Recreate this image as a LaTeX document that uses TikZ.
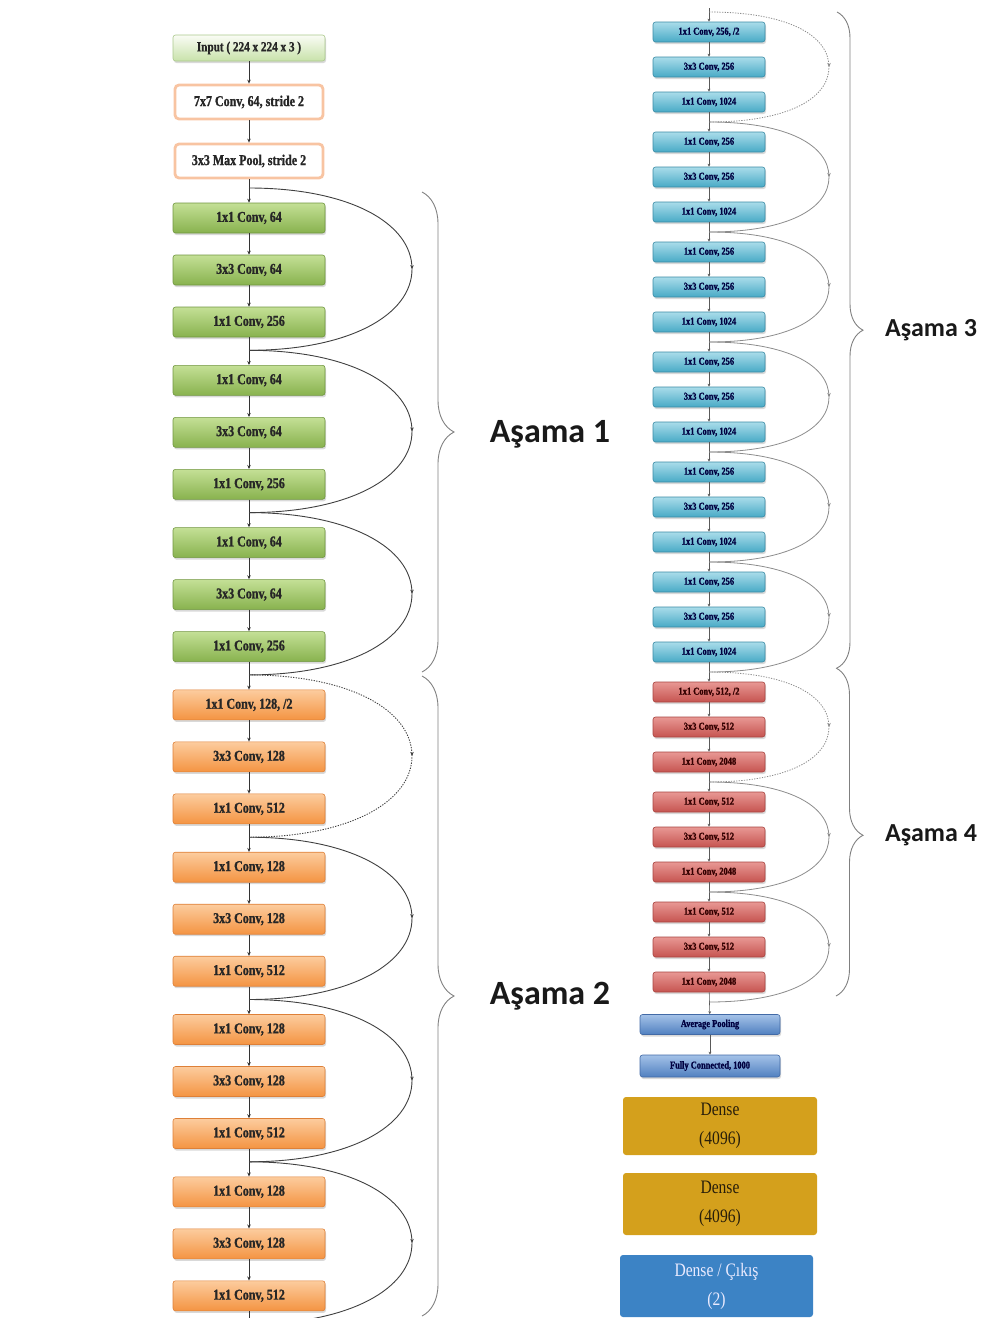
\documentclass[tikz,border=0pt]{standalone}
\usepackage{fontspec}
\setmainfont{Liberation Serif}
\newfontfamily\boxfont[FakeStretch=0.8, BoldFeatures={FakeBold=1.2}]{Liberation Serif}
\newfontfamily\densefont[FakeStretch=0.82]{Liberation Serif}
\newfontfamily\stagefont{Carlito}
\usetikzlibrary{decorations.pathreplacing,decorations.markings,shadows,arrows.meta,calc}

\definecolor{gTop}{RGB}{196,224,150}
\definecolor{gBot}{RGB}{136,178,78}
\definecolor{gEdge}{RGB}{112,150,64}
\definecolor{oTop}{RGB}{252,204,158}
\definecolor{oBot}{RGB}{244,148,66}
\definecolor{oEdge}{RGB}{222,128,56}
\definecolor{cTop}{RGB}{170,220,234}
\definecolor{cBot}{RGB}{72,170,198}
\definecolor{cEdge}{RGB}{58,138,165}
\definecolor{rTop}{RGB}{232,152,148}
\definecolor{rBot}{RGB}{198,84,80}
\definecolor{rEdge}{RGB}{168,68,64}
\definecolor{bTop}{RGB}{164,194,232}
\definecolor{bBot}{RGB}{80,128,192}
\definecolor{bEdge}{RGB}{66,106,166}
\definecolor{inTop}{RGB}{250,252,245}
\definecolor{inBot}{RGB}{200,226,170}
\definecolor{inEdge}{RGB}{170,200,140}
\definecolor{peach}{RGB}{248,196,162}
\definecolor{gold}{RGB}{212,160,28}
\definecolor{outBlue}{RGB}{60,131,197}
\definecolor{brText}{RGB}{40,30,10}

\tikzset{
  blk/.style={rectangle, rounded corners=2.5pt, inner sep=0pt, text=black!85, line width=0.6pt,
    drop shadow={shadow xshift=1pt, shadow yshift=-2pt, opacity=0.3}},
  lblk/.style={blk, minimum width=152pt, minimum height=30pt,
    font=\boxfont\bfseries\fontsize{15}{15}\selectfont},
  rblk/.style={blk, minimum width=112pt, minimum height=20pt,
    font=\boxfont\bfseries\fontsize{10.5}{10.5}\selectfont},
  greenblk/.style={lblk, top color=gTop, bottom color=gBot, draw=gEdge},
  orangeblk/.style={lblk, top color=oTop, bottom color=oBot, draw=oEdge},
  cyanblk/.style={rblk, top color=cTop, bottom color=cBot, draw=cEdge, text=black!75!blue},
  redblk/.style={rblk, top color=rTop, bottom color=rBot, draw=rEdge, text=black!80!red},
  poolblk/.style={rblk, minimum width=140pt, top color=bTop, bottom color=bBot, draw=bEdge, text=black!75!blue},
  stemblk/.style={rectangle, rounded corners=4pt, inner sep=0pt, minimum width=148pt, minimum height=34pt,
    fill=white, draw=peach, line width=2.8pt, text=black!85,
    font=\boxfont\bfseries\fontsize{15}{15}\selectfont},
  denseblk/.style={rectangle, rounded corners=3pt, inner sep=0pt, align=center,
    font=\densefont\fontsize{19}{29}\selectfont},
  link/.style={line width=0.8pt, draw=black!80, -{Stealth[length=4pt,width=3.5pt]}},
  rlink/.style={line width=0.6pt, draw=black!65, -{Stealth[length=3pt,width=2.8pt]}},
  midtip/.style={decoration={markings, mark=at position 0.5 with {\arrow{Stealth[length=4pt,width=3.5pt]}}}, postaction={decorate}},
  skipL/.style={line width=0.9pt, draw=black!75, midtip},
  skipR/.style={line width=0.8pt, draw=black!45, midtip},
  dotted line/.style={dash pattern=on 1.3pt off 1.3pt},
  stagebrace/.style={decorate, line width=0.9pt, draw=black!50},
  stagelabel/.style={font=\stagefont\bfseries, text=black!90, inner sep=0pt}
}

\begin{document}
\begin{tikzpicture}[x=1pt,y=-1pt]
\useasboundingbox (0,0) rectangle (981,1318);

% ---------- left column: stem ----------
\node[blk, minimum width=152pt, minimum height=26pt, top color=inTop, bottom color=inBot, draw=inEdge,
  font=\boxfont\bfseries\fontsize{14}{14}\selectfont] (in) at (249,48) {Input ( 224 x 224 x 3 )};
\node[stemblk] (conv1) at (249,102) {7x7 Conv, 64, stride 2};
\node[stemblk] (pool) at (249,161) {3x3 Max Pool, stride 2};

% ---------- left column: stage 1 (green) ----------
\foreach \g in {0,1,2} {
  \node[greenblk] (L\g-a) at (249,{218+162.3*\g}) {1x1 Conv, 64};
  \node[greenblk] (L\g-b) at (249,{270+162.3*\g}) {3x3 Conv, 64};
  \node[greenblk] (L\g-c) at (249,{322+162.3*\g}) {1x1 Conv, 256};
}
% ---------- left column: stage 2 (orange) ----------
\node[orangeblk] (L3-a) at (249,{218+162.3*3}) {1x1 Conv, 128, /2};
\node[orangeblk] (L3-b) at (249,{270+162.3*3}) {3x3 Conv, 128};
\node[orangeblk] (L3-c) at (249,{322+162.3*3}) {1x1 Conv, 512};
\foreach \g in {4,5,6} {
  \node[orangeblk] (L\g-a) at (249,{218+162.3*\g}) {1x1 Conv, 128};
  \node[orangeblk] (L\g-b) at (249,{270+162.3*\g}) {3x3 Conv, 128};
  \node[orangeblk] (L\g-c) at (249,{322+162.3*\g}) {1x1 Conv, 512};
}

% junctions of the shortcut paths
\foreach \g in {0,...,7} {
  \coordinate (J\g) at (249,{188+162.3*\g});
  \coordinate (M\g) at (412,{269+162.3*\g});
}

% main data path
\draw[link] (in) -- (conv1);
\draw[link] (conv1) -- (pool);
\draw[link] (pool) -- (L0-a);
\foreach \g in {0,...,6} {
  \draw[link] (L\g-a) -- (L\g-b);
  \draw[link] (L\g-b) -- (L\g-c);
}
\foreach \g/\h in {0/1,1/2,2/3,3/4,4/5,5/6} {
  \draw[link] (L\g-c) -- (L\h-a);
}
\draw[line width=0.8pt, draw=black!80] (L6-c.south) -- (J7);

% shortcut paths
\foreach \g/\h in {0/1,1/2,2/3,4/5,5/6,6/7} {
  \draw[skipL] (J\g) .. controls +(100,0) and +(0,-46) .. (M\g) .. controls +(0,46) and +(100,0) .. (J\h);
}
\draw[skipL, dotted line] (J3) .. controls +(100,0) and +(0,-46) .. (M3) .. controls +(0,46) and +(100,0) .. (J4);

% stage braces
\coordinate (B1a) at (422,192);
\coordinate (B1b) at (422,672);
\coordinate (B2a) at (422,676);
\coordinate (B2b) at (422,1316);
\draw[stagebrace, decoration={brace, amplitude=32pt}] (B1a) -- (B1b);
\draw[stagebrace, decoration={brace, amplitude=32pt}] (B2a) -- (B2b);
\node[stagelabel, font=\stagefont\bfseries\fontsize{34}{34}\selectfont] (s1) at (550,434) {Aşama 1};
\node[stagelabel, font=\stagefont\bfseries\fontsize{34}{34}\selectfont] (s2) at (550,996) {Aşama 2};

% ---------- right column: stage 3 (cyan) ----------
\node[cyanblk] (R0-a) at (709,32) {1x1 Conv, 256, /2};
\node[cyanblk] (R0-b) at (709,67) {3x3 Conv, 256};
\node[cyanblk] (R0-c) at (709,102) {1x1 Conv, 1024};
\foreach \k in {1,...,5} {
  \node[cyanblk] (R\k-a) at (709,{32+110*\k}) {1x1 Conv, 256};
  \node[cyanblk] (R\k-b) at (709,{67+110*\k}) {3x3 Conv, 256};
  \node[cyanblk] (R\k-c) at (709,{102+110*\k}) {1x1 Conv, 1024};
}
% ---------- right column: stage 4 (red) ----------
\node[redblk] (R6-a) at (709,692) {1x1 Conv, 512, /2};
\node[redblk] (R6-b) at (709,727) {3x3 Conv, 512};
\node[redblk] (R6-c) at (709,762) {1x1 Conv, 2048};
\foreach \k in {7,8} {
  \node[redblk] (R\k-a) at (709,{32+110*\k}) {1x1 Conv, 512};
  \node[redblk] (R\k-b) at (709,{67+110*\k}) {3x3 Conv, 512};
  \node[redblk] (R\k-c) at (709,{102+110*\k}) {1x1 Conv, 2048};
}
\node[poolblk] (avg) at (710,1024.5) {Average Pooling};
\node[poolblk, minimum height=22pt] (fc) at (710,1066) {Fully Connected, 1000};

\foreach \k in {0,...,9} {
  \coordinate (K\k) at (709,{12+110*\k});
  \coordinate (N\k) at (829,{67+110*\k});
}
\coordinate (Rtop) at (709,8);

\draw[rlink] (Rtop) -- (R0-a);
\foreach \k in {0,...,8} {
  \draw[rlink] (R\k-a) -- (R\k-b);
  \draw[rlink] (R\k-b) -- (R\k-c);
}
\foreach \k/\m in {0/1,1/2,2/3,3/4,4/5,5/6,6/7,7/8} {
  \draw[rlink] (R\k-c) -- (R\m-a);
}
\draw[rlink] (R8-c) -- (avg);
\draw[rlink] (avg) -- (fc);

\foreach \k/\m in {1/2,2/3,3/4,4/5,5/6,7/8,8/9} {
  \draw[skipR] (K\k) .. controls +(80,0) and +(0,-31) .. (N\k) .. controls +(0,31) and +(80,0) .. (K\m);
}
\draw[skipR, dotted line] (K0) .. controls +(80,0) and +(0,-31) .. (N0) .. controls +(0,31) and +(80,0) .. (K1);
\draw[skipR, dotted line] (K6) .. controls +(80,0) and +(0,-31) .. (N6) .. controls +(0,31) and +(80,0) .. (K7);

\coordinate (B3a) at (837,12);
\coordinate (B3b) at (837,668);
\coordinate (B4a) at (836,668);
\coordinate (B4b) at (836,996);
\draw[stagebrace, decoration={brace, amplitude=26pt, aspect=0.485}] (B3a) -- (B3b);
\draw[stagebrace, decoration={brace, amplitude=27pt, aspect=0.51}] (B4a) -- (B4b);
\node[stagelabel, font=\stagefont\bfseries\fontsize{26}{26}\selectfont] (s3) at (931,330) {Aşama 3};
\node[stagelabel, font=\stagefont\bfseries\fontsize{26}{26}\selectfont] (s4) at (931,835) {Aşama 4};

% ---------- classifier head ----------
\node[denseblk, fill=gold, minimum width=194pt, minimum height=58pt, text=brText] (d1) at (720,1126) {Dense\\(4096)};
\node[denseblk, fill=gold, minimum width=194pt, minimum height=62pt, text=brText] (d2) at (720,1204) {Dense\\(4096)};
\node[denseblk, fill=outBlue, minimum width=193pt, minimum height=62pt, text=white!92!blue] (d3) at (716.5,1286) {Dense / Çıkış\\(2)};
\end{tikzpicture}
\end{document}
